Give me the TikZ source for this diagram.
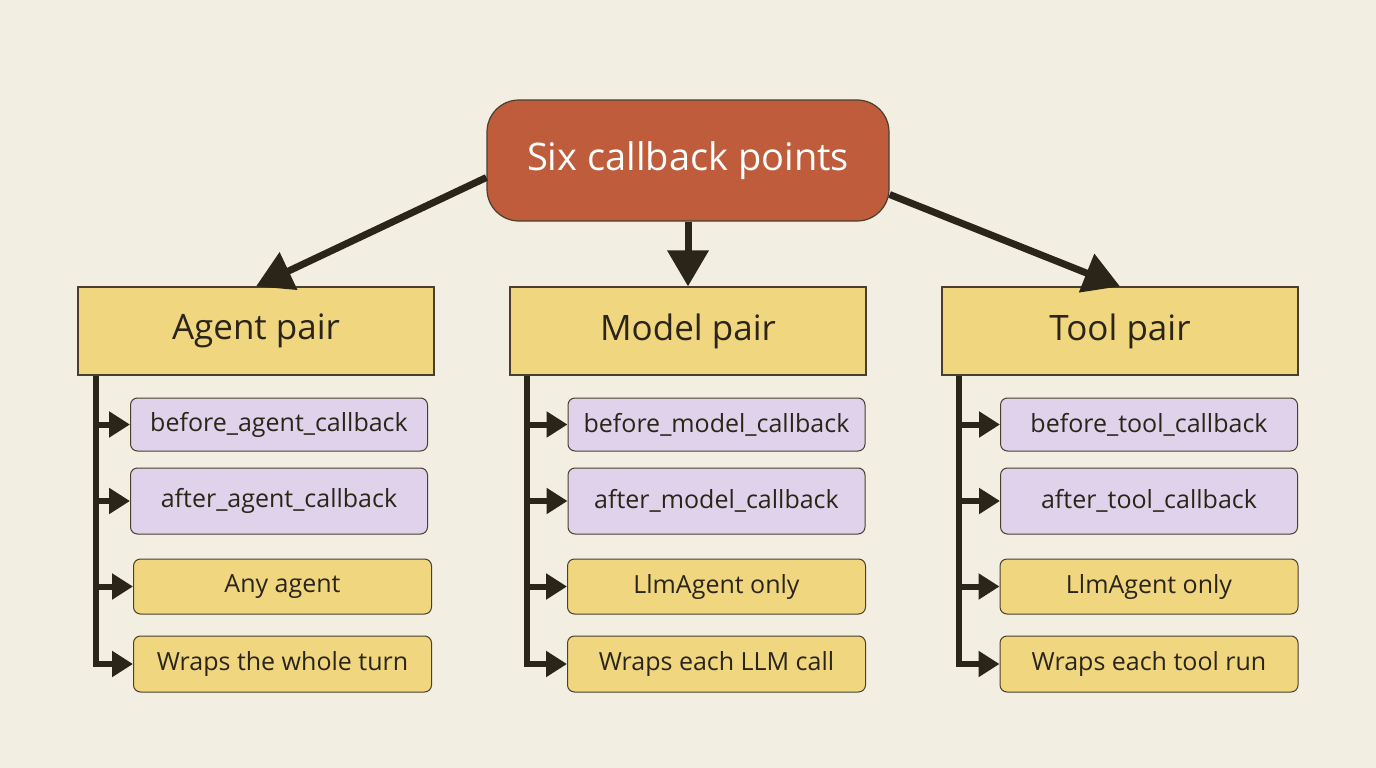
\documentclass[tikz,border=0pt]{standalone}
\usepackage{fontspec}
\setmainfont{Open Sans}
\usetikzlibrary{arrows.meta, positioning}
\definecolor{bgcream}{HTML}{F2EEE2}
\definecolor{rust}{HTML}{BE5C3B}
\definecolor{sand}{HTML}{F0D67F}
\definecolor{lilac}{HTML}{DFD2EA}
\definecolor{ink}{HTML}{2B2519}
\definecolor{edge}{HTML}{4A3F2E}

\tikzset{
    topbox/.style={draw=edge, line width=1.2pt, fill=rust, rounded corners=32pt,
        minimum width=402pt, minimum height=121pt, text=white, font=\fontsize{38}{44}\selectfont},
    pairbox/.style={draw=edge, line width=1.2pt, fill=sand, minimum width=356pt,
        minimum height=88pt, text=ink, font=\fontsize{35}{40}\selectfont},
    hookbox/.style={draw=edge, line width=1pt, fill=lilac, rounded corners=7pt,
        minimum width=297pt, text=ink, font=\fontsize{25}{29}\selectfont},
    notebox/.style={draw=edge, line width=1pt, fill=sand, rounded corners=7pt,
        minimum width=298pt, text=ink, font=\fontsize{25}{29}\selectfont},
    bigarrow/.style={draw=ink, line width=7pt, -{Triangle[length=36pt,width=40pt]}},
    railarrow/.style={draw=ink, line width=6pt, -{Triangle[length=21pt,width=25pt]}}
}

\begin{document}
\begin{tikzpicture}[x=1pt, y=-1pt]
    % background
    \fill[bgcream] (0,0) rectangle (1376,768);
    \useasboundingbox (0,0) rectangle (1376,768);

    % Root
    \node[topbox] (top) at (688,160.5) {Six callback points};

    % Pairs
    \node[pairbox] (agent) at (256,331) {Agent pair};
    \node[pairbox] (model) at (688,331) {Model pair};
    \node[pairbox] (tool) at (1120,331) {Tool pair};

    \draw[bigarrow] ([yshift=-17pt]top.west) -- (agent.north);
    \draw[bigarrow] (top.south) -- (model.north);
    \draw[bigarrow] ([yshift=-34pt]top.east) -- (tool.north);

    % Agent pair
    \node[hookbox, minimum height=53pt] (a1) at (279,424.5) {before\_agent\_callback};
    \node[hookbox, minimum height=66pt] (a2) at (279,501) {after\_agent\_callback};
    \node[notebox, minimum height=55pt] (a3) at (282.5,586.5) {Any agent};
    \node[notebox, minimum height=56pt] (a4) at (282.5,664) {Wraps the whole turn};

    % Model pair
    \node[hookbox, minimum height=53pt] (m1) at (716.5,424.5) {before\_model\_callback};
    \node[hookbox, minimum height=66pt] (m2) at (716.5,501) {after\_model\_callback};
    \node[notebox, minimum height=55pt] (m3) at (716.5,586.5) {LlmAgent only};
    \node[notebox, minimum height=56pt] (m4) at (716.5,664) {Wraps each LLM call};

    % Tool pair
    \node[hookbox, minimum height=53pt] (t1) at (1149,424.5) {before\_tool\_callback};
    \node[hookbox, minimum height=66pt] (t2) at (1149,501) {after\_tool\_callback};
    \node[notebox, minimum height=55pt] (t3) at (1149,586.5) {LlmAgent only};
    \node[notebox, minimum height=56pt] (t4) at (1149,664) {Wraps each tool run};

    % rails
    \foreach \b in {a1,a2,a3,a4}
        \draw[railarrow] ([xshift=19pt]agent.south west) |- (\b.west);
    \foreach \b in {m1,m2,m3,m4}
        \draw[railarrow] ([xshift=18pt]model.south west) |- (\b.west);
    \foreach \b in {t1,t2,t3,t4}
        \draw[railarrow] ([xshift=18pt]tool.south west) |- (\b.west);
\end{tikzpicture}
\end{document}
